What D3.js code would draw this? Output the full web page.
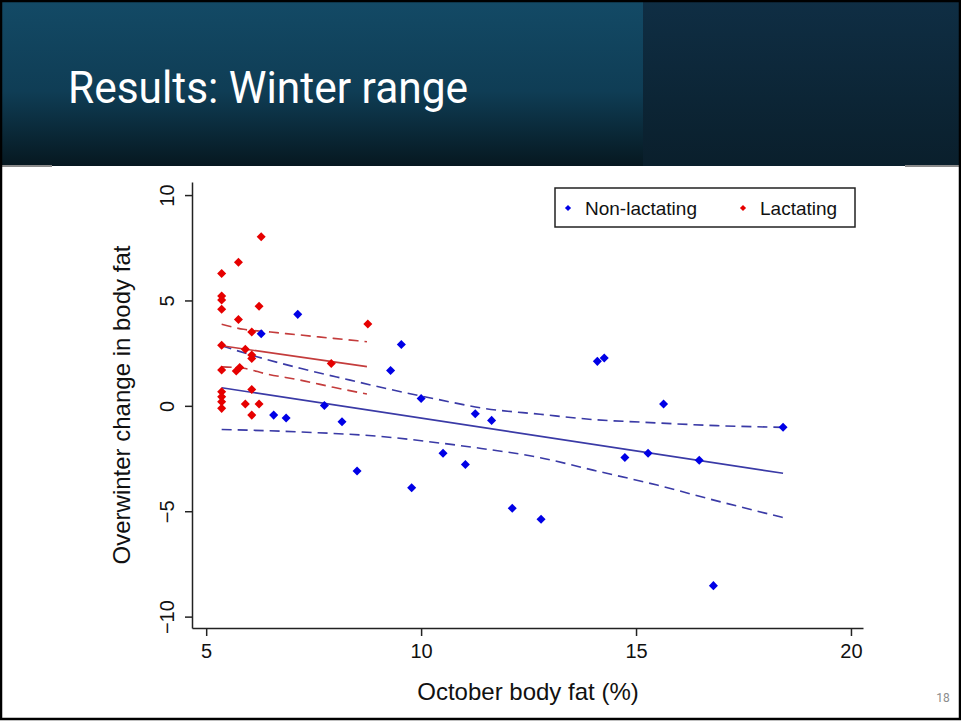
<!DOCTYPE html>
<html>
<head>
<meta charset="utf-8">
<script src="https://cdn.jsdelivr.net/npm/d3@7"></script>
<style>
  body { margin: 0; background: #fff; }
  svg { display: block; }
</style>
</head>
<body>
<svg id="drawspace" width="961" height="721"></svg>
<script>
// values
let nonLactX = [6.28, 7.13, 6.57, 6.86, 7.75, 8.16, 8.51, 9.29, 9.54, 9.78, 10.0, 10.51, 11.03,
  11.26, 11.64, 12.12, 12.79, 14.1, 14.26, 14.74, 15.28, 15.64, 16.47, 16.8, 18.42];
let nonLactY = [3.42, 4.34, -0.44, -0.58, 0.02, -0.75, -3.09, 1.68, 2.91, -3.89, 0.35, -2.25, -2.78,
  -0.37, -0.69, -4.86, -5.38, 2.11, 2.27, -2.45, -2.25, 0.09, -2.58, -8.53, -1.02];

let lactX = [6.28, 5.75, 5.36, 5.36, 5.36, 5.36, 6.23, 5.75, 6.06, 8.76, 5.36, 5.91, 6.06,
  6.06, 7.91, 5.36, 5.7, 5.78, 5.36, 5.36, 5.36, 5.36, 6.06, 5.91, 6.23, 6.06];
let lactY = [8.02, 6.81, 6.28, 5.21, 5.02, 4.58, 4.73, 4.1, 3.5, 3.88, 2.87, 2.68, 2.41,
  2.25, 2.01, 1.7, 1.65, 1.82, 0.67, 0.43, 0.19, -0.12, 0.78, 0.09, 0.09, -0.44];

// fitted lines and confidence bands (x, y pairs)
let nonLactFit = [[5.36, 0.86], [18.42, -3.2]];
let nonLactUpper = [[5.36, 2.85], [6.2, 2.32], [7.19, 1.78], [8.35, 1.22], [9.28, 0.78], [10.4, 0.3],
  [11.4, -0.1], [12.77, -0.4], [14.06, -0.66], [15.2, -0.78], [16.88, -0.94], [18.42, -1.02]];
let nonLactLower = [[5.36, -1.12], [7.19, -1.24], [9.05, -1.45], [10.5, -1.78], [11.4, -2.02],
  [12.77, -2.46], [14.0, -3.05], [15.49, -3.76], [16.9, -4.52], [18.42, -5.3]];

let lactFit = [[5.36, 2.85], [8.74, 1.86]];
let lactUpper = [[5.36, 3.87], [5.87, 3.63], [6.5, 3.5], [7.19, 3.36], [7.96, 3.2], [8.74, 3.04]];
let lactLower = [[5.36, 1.85], [5.87, 1.78], [6.41, 1.51], [7.19, 1.22], [7.96, 0.88], [8.74, 0.56]];

let xTicks = [5, 10, 15, 20];
let yTicks = [-10, -5, 0, 5, 10];
let seriesNames = ["Non-lactating", "Lactating"];

let drawSpace = d3.select("#drawspace");
let blueDot = "#0000e6", redDot = "#e60000";
let blueLine = "#3a3aa6", redLine = "#c43c3c";

// header band
let defs = drawSpace.append("defs");
let gLeft = defs.append("linearGradient").attr("id", "hdrL").attr("x1", 0).attr("y1", 0).attr("x2", 0).attr("y2", 1);
gLeft.append("stop").attr("offset", "0%").attr("stop-color", "#134a66");
gLeft.append("stop").attr("offset", "55%").attr("stop-color", "#0f3d55");
gLeft.append("stop").attr("offset", "100%").attr("stop-color", "#061820");
let gRight = defs.append("linearGradient").attr("id", "hdrR").attr("x1", 0).attr("y1", 0).attr("x2", 0).attr("y2", 1);
gRight.append("stop").attr("offset", "0%").attr("stop-color", "#0f2e44");
gRight.append("stop").attr("offset", "100%").attr("stop-color", "#0a1f2c");

drawSpace.append("rect").attr("x", 0).attr("y", 0).attr("width", 643).attr("height", 166).attr("fill", "url(#hdrL)");
drawSpace.append("rect").attr("x", 643).attr("y", 0).attr("width", 318).attr("height", 166).attr("fill", "url(#hdrR)");
drawSpace.append("rect").attr("x", 0).attr("y", 165).attr("width", 52).attr("height", 2).attr("fill", "#8a8a8a");
drawSpace.append("rect").attr("x", 905).attr("y", 165).attr("width", 56).attr("height", 2).attr("fill", "#8a8a8a");

drawSpace.append("text")
  .attr("x", 68).attr("y", 103)
  .attr("fill", "#fff")
  .attr("font-family", "Roboto, 'Noto Sans', sans-serif")
  .attr("font-size", 44)
  .attr("textLength", 400)
  .attr("lengthAdjust", "spacingAndGlyphs")
  .text("Results: Winter range");

// scales
let x = d3.scaleLinear().domain([4.67, 20.28]).range([192, 863]);
let y = d3.scaleLinear().domain([-10.54, 10.62]).range([628, 182]);

let font = "'Liberation Sans', Arial, sans-serif";

// x axis
let xAxis = drawSpace.append("g")
  .attr("transform", "translate(0,628)")
  .call(d3.axisBottom(x).tickValues(xTicks).tickSize(8).tickSizeOuter(0).tickPadding(8));
xAxis.selectAll("text").attr("font-family", font).attr("font-size", 20).attr("fill", "#111");

// y axis, labels turned like Stata
let yAxis = drawSpace.append("g")
  .attr("transform", "translate(192,0)")
  .call(d3.axisLeft(y).tickValues(yTicks).tickSize(7).tickSizeOuter(0));
yAxis.selectAll("text")
  .attr("x", null).attr("dy", null)
  .attr("text-anchor", "middle")
  .attr("transform", "translate(-18,0) rotate(-90)")
  .attr("font-family", font).attr("font-size", 20).attr("fill", "#111");
drawSpace.selectAll(".domain, .tick line").attr("stroke", "#222").attr("stroke-width", 1.5);

// axis titles
drawSpace.append("text")
  .attr("transform", "translate(130,405) rotate(-90)")
  .attr("text-anchor", "middle")
  .attr("font-family", font).attr("font-size", 24).attr("fill", "#111")
  .text("Overwinter change in body fat");
drawSpace.append("text")
  .attr("x", 528).attr("y", 700)
  .attr("text-anchor", "middle")
  .attr("font-family", font).attr("font-size", 24).attr("fill", "#111")
  .text("October body fat (%)");

// lines
let line = d3.line().x((d) => x(d[0])).y((d) => y(d[1])).curve(d3.curveMonotoneX);
function drawLine(data, color, dashed) {
  drawSpace.append("path")
    .datum(data)
    .attr("fill", "none")
    .attr("stroke", color)
    .attr("stroke-width", 1.6)
    .attr("stroke-dasharray", dashed ? "10,6" : null)
    .attr("d", line);
}
drawLine(nonLactUpper, blueLine, true);
drawLine(nonLactLower, blueLine, true);
drawLine(nonLactFit, blueLine, false);
drawLine(lactUpper, redLine, true);
drawLine(lactLower, redLine, true);
drawLine(lactFit, redLine, false);

// points
let diamond = d3.symbol().type(d3.symbolDiamond2).size(52);
drawSpace.append("g")
  .selectAll("path")
  .data(nonLactX.map((d, i) => [d, nonLactY[i]]))
  .enter()
  .append("path")
  .attr("d", diamond)
  .attr("transform", (d) => "translate(" + x(d[0]) + "," + y(d[1]) + ")")
  .attr("fill", blueDot);
drawSpace.append("g")
  .selectAll("path")
  .data(lactX.map((d, i) => [d, lactY[i]]))
  .enter()
  .append("path")
  .attr("d", diamond)
  .attr("transform", (d) => "translate(" + x(d[0]) + "," + y(d[1]) + ")")
  .attr("fill", redDot);

// legend
let legend = drawSpace.append("g");
legend.append("rect")
  .attr("x", 555).attr("y", 188).attr("width", 300).attr("height", 39)
  .attr("fill", "#fff").attr("stroke", "#222").attr("stroke-width", 1.5);
let smallDiamond = d3.symbol().type(d3.symbolDiamond2).size(24);
[[568, blueDot], [743, redDot]].forEach((p, i) => {
  legend.append("path").attr("d", smallDiamond)
    .attr("transform", "translate(" + p[0] + ",208)").attr("fill", p[1]);
  legend.append("text")
    .attr("x", p[0] + 17).attr("y", 215)
    .attr("font-family", font).attr("font-size", 19).attr("fill", "#111")
    .text(seriesNames[i]);
});

// slide number and frame
drawSpace.append("text")
  .attr("x", 943).attr("y", 702)
  .attr("text-anchor", "middle")
  .attr("font-family", "'Roboto', sans-serif").attr("font-size", 12).attr("fill", "#8c8c8c")
  .text("18");
drawSpace.append("rect")
  .attr("x", 1).attr("y", 1).attr("width", 959).attr("height", 718)
  .attr("fill", "none").attr("stroke", "#000").attr("stroke-width", 2.5);
</script>
</body>
</html>
